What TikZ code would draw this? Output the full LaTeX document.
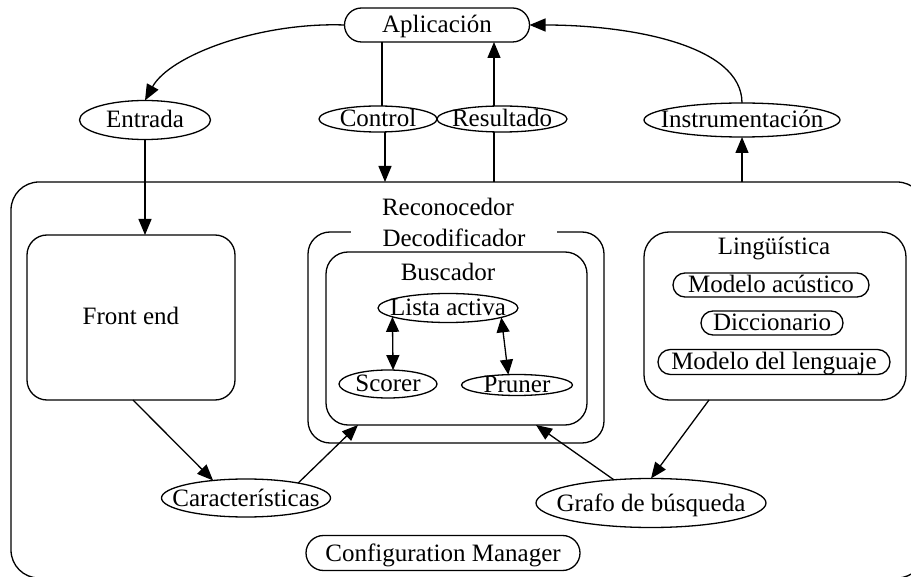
\documentclass[tikz,border=0pt]{standalone}
\usepackage{fontspec}
\setmainfont{Liberation Serif}
\usetikzlibrary{shapes.geometric,arrows.meta,calc}
\newcommand\zt[1]{\makebox[0pt]{\raisebox{-8pt}[0pt][0pt]{#1}}}
\begin{document}
\begin{tikzpicture}[x=1pt,y=-1pt,
  line width=1.3pt,
  font=\fontsize{25}{29}\selectfont,
  every node/.style={inner sep=0pt, outer sep=0pt},
  oval/.style={draw, ellipse, minimum width=#1},
  pill/.style={draw, rectangle},
  frame/.style={draw, rectangle, rounded corners=#1},
  arr/.style={-{Triangle[length=16pt,width=13pt]}},
  dbl/.style={{Triangle[length=15pt,width=13pt]}-{Triangle[length=15pt,width=13pt]}}
]
\useasboundingbox (0,0) rectangle (911,577);
\clip (0,0) rectangle (911,577);

% big container
\node[frame=28pt, minimum width=914pt, minimum height=396pt] (reco) at (468,380) {};
\node (recolab) at (448,208) {\zt{Reconocedor}};

% top level nodes
\node[pill, rounded corners=17pt, minimum width=185pt, minimum height=34pt] (app) at (437,25) {\zt{Aplicación}};
\node[oval=131pt, minimum height=39pt] (ent) at (145,120) {\zt{Entrada}};
\node[oval=118pt, minimum height=26pt] (ctl) at (378,119) {\zt{Control}};
\node[oval=130pt, minimum height=26pt] (res) at (502,119) {\zt{Resultado}};
\node[oval=196pt, minimum height=34pt] (ins) at (742,120) {\zt{Instrumentación}};

% front end
\node[frame=20pt, minimum width=208pt, minimum height=165pt] (fe) at (131,317.5) {};
\node (felab) at (131,317) {\zt{Front end}};

% decodificador
\node[frame=22pt, minimum width=296pt, minimum height=211pt] (dec) at (456,337.5) {};
\node[fill=white, minimum width=206pt, minimum height=20pt] (declab) at (454,239) {\zt{Decodificador}};
\node[frame=22pt, minimum width=261pt, minimum height=173pt] (busc) at (456.5,338.5) {};
\node (busclab) at (448,273) {\zt{Buscador}};
\node[oval=140pt, minimum height=29pt] (lista) at (448,308) {\zt{Lista activa}};
\node[oval=98pt, minimum height=28pt] (scorer) at (388,384) {\zt{Scorer}};
\node[oval=111pt, minimum height=21pt] (pruner) at (517,385) {\zt{Pruner}};

% linguistica
\node[frame=25pt, minimum width=262pt, minimum height=168pt] (ling) at (775,316) {};
\node (linglab) at (774,247) {\zt{Lingüística}};
\node[pill, rounded corners=12pt, minimum width=196pt, minimum height=24pt] (ma) at (771,285) {\zt{Modelo acústico}};
\node[pill, rounded corners=12pt, minimum width=142pt, minimum height=24pt] (dic) at (772,323) {\zt{Diccionario}};
\node[pill, rounded corners=12.5pt, minimum width=232pt, minimum height=25pt] (ml) at (774,362) {\zt{Modelo del lenguaje}};

% bottom nodes
\node[oval=169pt, minimum height=38pt] (car) at (246,498) {\zt{Características}};
\node[oval=230pt, minimum height=49pt] (gra) at (651,503) {\zt{Grafo de búsqueda}};
\node[pill, rounded corners=17.5pt, minimum width=274pt, minimum height=35pt] (cfg) at (443,553) {\zt{Configuration Manager}};

% helper x positions
\coordinate (xc1) at (382,0);
\coordinate (xc2) at (385,0);
\coordinate (xr) at (494,0);

% connectors
\draw[arr] (app.west) .. controls (260,22) and (170,55) .. (ent.north);
\draw[arr] (ins.north) .. controls (742,45) and (630,25) .. (app.east);
\draw (app.south -| xc1) -- (ctl.north -| xc1);
\draw[arr] (ctl.south -| xc2) -- (reco.north -| xc2);
\draw (reco.north -| xr) -- (res.south -| xr);
\draw[arr] (res.north -| xr) -- (app.south -| xr);
\draw[arr] (reco.north -| ins.south) -- (ins.south);
\draw[arr] (ent.south) -- (ent.south |- fe.north);

\draw[dbl] (lista.189) -- (scorer.70);
\draw[dbl] (lista.-10) -- (pruner.130);

\draw[arr] ($(fe.south)+(2,0)$) -- (car.152);
\draw[arr] (car.16) -- ($(busc.south west)+(32,0)$);
\draw[arr] (gra.148) -- ($(busc.south east)+(-51,0)$);
\draw[arr] ($(ling.south)+(-66,0)$) -- (gra.north);
\end{tikzpicture}
\end{document}
